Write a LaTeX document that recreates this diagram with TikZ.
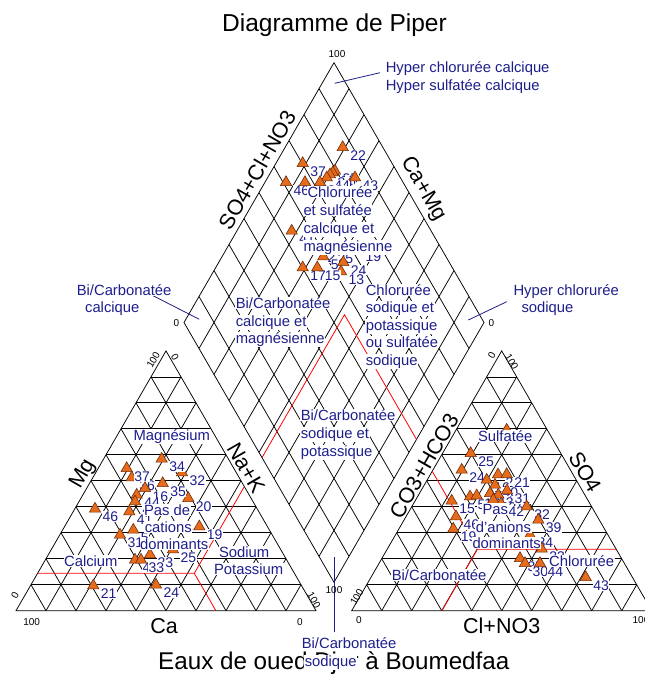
\documentclass[tikz,border=0pt]{standalone}
\usepackage{fontspec}
\setmainfont{Liberation Sans}
\usetikzlibrary{calc,shapes.geometric}
\definecolor{navy}{RGB}{30,30,140}
\definecolor{mkfill}{RGB}{230,108,28}
\definecolor{mkdraw}{RGB}{115,45,10}
\newcommand\smp[4]{\node[mk] (#1) at (#2,#3) {};\node[num] (#1n) at ($(#2,#3)+(7,9.5)$) {#4};}
\begin{document}
\begin{tikzpicture}[x=1pt,y=-1pt,
  gridl/.style={line width=0.75pt,black},
  redl/.style={line width=0.8pt,red},
  lead/.style={line width=0.8pt,navy},
  mk/.style={regular polygon,regular polygon sides=3,minimum size=13pt,inner sep=0pt,draw=mkdraw,fill=mkfill,line width=0.6pt,yshift=-1.6pt},
  num/.style={anchor=west,fill=white,text=navy,inner sep=0.4pt,font=\fontsize{14}{16}\selectfont},
  rl/.style={anchor=base west,fill=white,text=navy,inner sep=0.6pt,font=\fontsize{14.8}{17}\selectfont},
  tick/.style={inner sep=0pt,font=\fontsize{10}{12}\selectfont},
  axl/.style={inner sep=0pt,font=\fontsize{21.5}{24}\selectfont}]
\useasboundingbox (0,0) rectangle (645,678);
\fill[white] (0,0) rectangle (645,678);
% corners
\coordinate (LL) at (16,610.7); \coordinate (LR) at (316,610.7); \coordinate (LA) at (166,350.89);
\coordinate (RL) at (351.7,610.7); \coordinate (RR) at (651.7,610.7); \coordinate (RA) at (501.7,350.89);
\coordinate (DT) at (334,62.7); \coordinate (DL) at (184,322.5); \coordinate (DR) at (484,322.5); \coordinate (DB) at (334,582.3);
% grids
\foreach \i in {1,...,9}{
  \draw[gridl] ($(LL)!\i/10!(LA)$) -- ($(LR)!\i/10!(LA)$);
  \draw[gridl] ($(LL)!\i/10!(LR)$) -- ($(LL)!\i/10!(LA)$);
  \draw[gridl] ($(LL)!\i/10!(LR)$) -- ($(LA)!\i/10!(LR)$);
  \draw[gridl] ($(RL)!\i/10!(RA)$) -- ($(RR)!\i/10!(RA)$);
  \draw[gridl] ($(RL)!\i/10!(RR)$) -- ($(RL)!\i/10!(RA)$);
  \draw[gridl] ($(RL)!\i/10!(RR)$) -- ($(RA)!\i/10!(RR)$);
  \draw[gridl] ($(DT)!\i/10!(DL)$) -- ($(DR)!\i/10!(DB)$);
  \draw[gridl] ($(DT)!\i/10!(DR)$) -- ($(DL)!\i/10!(DB)$);
}
\draw[gridl] (LL) -- (LR) -- (LA) -- cycle;
\draw[gridl] (RL) -- (RR) -- (RA) -- cycle;
\draw[gridl] (DT) -- (DR) -- (DB) -- (DL) -- cycle;
% red classification lines
\coordinate (J1) at (194.3,573.3);
\draw[redl] ($(LL)!0.144!(LA)$) -- (J1) -- (215.9,610.7);
\draw[redl] (J1) -- (244.3,486.6);
\coordinate (J2) at (477.3,549.3);
\draw[redl] (616.2,549.3) -- (J2) -- (441.9,610.7);
\draw[redl] (J2) -- (432.2,471.2);
\coordinate (J3) at (344.5,314.7);
\draw[redl] (262,457.6) -- (J3) -- (416.5,439.4);
% leader lines
\coordinate (ldA1) at (334.7,83.3); \coordinate (ldA2) at (380,72.7);
\coordinate (ldB1) at (468.3,320); \coordinate (ldB2) at (506.7,301.7);
\coordinate (ldC1) at (151.7,295); \coordinate (ldC2) at (199.3,319.3);
\coordinate (ldD1) at (334,557); \coordinate (ldD2) at (334,632);
\draw[lead] (ldA1) -- (ldA2);
\draw[lead] (ldB1) -- (ldB2);
\draw[lead] (ldC1) -- (ldC2);
\draw[lead] (ldD1) -- (ldD2);
% tick labels
\node[tick] (tk1) at (337,54) {100};
\node[tick] (tk2) at (176.5,323) {0};
\node[tick] (tk3) at (491.5,323) {0};
\node[tick] (tk4) at (334,590) {100};
\node[tick,rotate=60] (tk5) at (153.3,360) {100};
\node[tick,rotate=-60] (tk6) at (175,357) {0};
\node[tick,rotate=60] (tk7) at (15,595) {0};
\node[tick] (tk8) at (31.7,621.7) {100};
\node[tick] (tk9) at (300,621.7) {0};
\node[tick,rotate=-60] (tk10) at (314,600) {100};
\node[tick,rotate=60] (tk11) at (491.7,355) {0};
\node[tick,rotate=-60] (tk12) at (511.7,361.7) {100};
\node[tick,rotate=60] (tk13) at (356.7,597) {100};
\node[tick] (tk14) at (359,620) {0};
\node[tick] (tk15) at (641,620) {100};
% axis labels
\node[axl,rotate=60] (axSO) at (257,170) {SO4+Cl+NO3};
\node[axl,rotate=-60] (axCM) at (423,189) {Ca+Mg};
\node[axl,rotate=60] (axMg) at (83,474) {Mg};
\node[axl,rotate=-60] (axNK) at (246,468) {Na+K};
\node[axl,rotate=60] (axCO) at (424,466) {CO3+HCO3};
\node[axl,rotate=-60] (axS4) at (585,472) {SO4};
\node[axl,anchor=base] (axCa) at (164,633) {Ca};
\node[axl,anchor=base] (axCl) at (501.7,633) {Cl+NO3};
% titles
\node[anchor=base,inner sep=0pt,font=\fontsize{24.5}{28}\selectfont] (title) at (334.5,31) {Diagramme de Piper};
\node[anchor=base,inner sep=0pt,font=\fontsize{24.2}{28}\selectfont] (subtitle) at (333.8,669.3) {Eaux de oued Djer à Boumedfaa};
% left triangle samples
\smp{l1}{182}{471}{32}
\smp{l2}{161.7}{457.3}{34}
\smp{l3}{131.7}{476}{36}
\smp{l4}{126.7}{466.7}{37}
\smp{l5}{188.3}{496.7}{20}
\smp{l6}{162.7}{481.7}{35}
\smp{l7}{145}{486.7}{16}
\smp{l8}{136.7}{493.3}{44}
\smp{l10}{95}{507.3}{46}
\smp{l11}{135}{500}{42}
\smp{l12}{129.3}{510}{41}
\smp{l13}{199.3}{525}{19}
\smp{l14}{133.3}{528.3}{5}
\smp{l15}{120}{533.3}{31}
\smp{l16}{150}{553}{23}
\smp{l17}{173}{548}{25}
\smp{l18}{135}{558.3}{43}
\smp{l19}{141}{558.3}{33}
\smp{l20}{93.3}{584}{21}
\smp{l21}{156}{583.3}{24}
% diamond samples
\smp{d1}{342.7}{145.7}{22}
\smp{d2}{302.7}{161.7}{37}
\smp{d3}{335}{169.3}{35}
\smp{d4}{332.7}{171}{16}
\smp{d5}{330}{173}{34}
\smp{d6}{326.7}{176}{44}
\smp{d7}{355}{176}{43}
\smp{d8}{286}{180.7}{46}
\smp{d9}{305}{180.7}{36}
\smp{d10}{320}{180.7}{32}
\smp{d11}{291.7}{229.3}{41}
\smp{d12}{320}{248}{21}
\smp{d13}{330}{249}{25}
\smp{d14}{358}{247}{19}
\smp{d15}{323.3}{255}{5}
\smp{d16}{343.3}{260.7}{24}
\smp{d17}{341}{270}{13}
\smp{d18}{302.7}{266}{17}
\smp{d19}{317.3}{266}{15}
% right triangle samples
\smp{r1}{506.7}{428.3}{23}
\smp{r2}{470.7}{451.7}{25}
\smp{r3}{461.7}{468.3}{24}
\smp{r4}{498}{473}{26}
\smp{r5}{506.7}{472.7}{21}
\smp{r6}{486.7}{478.3}{16}
\smp{r7}{495}{483.3}{40}
\smp{r8}{490}{491.7}{44}
\smp{r9}{498.3}{493.3}{36}
\smp{r10}{470}{495}{5}
\smp{r11}{476.7}{494}{17}
\smp{r12}{493.3}{498.3}{22}
\smp{r13}{507}{489}{31}
\smp{r14}{451.7}{499.3}{15}
\smp{r15}{501}{502}{42}
\smp{r16}{526.7}{505}{32}
\smp{r17}{538.3}{518.3}{39}
\smp{r18}{456}{515}{46}
\smp{r19}{453.3}{527.3}{19}
\smp{r20}{530}{533.3}{34}
\smp{r21}{541.7}{547.3}{33}
\smp{r22}{520}{556.7}{35}
\smp{r23}{525}{561.7}{30}
\smp{r24}{540}{561.7}{44}
\smp{r25}{585.7}{575.7}{43}
% region labels: diamond
\node[rl] (dA1) at (306.7,197) {Chlorurée};
\node[rl] (dA2) at (302.7,215) {et sulfatée};
\node[rl] (dA3) at (302.7,233) {calcique et};
\node[rl] (dA4) at (302.7,251) {magnésienne};
\node[rl] (dB1) at (235,308.3) {Bi/Carbonatée};
\node[rl] (dB2) at (235,326) {calcique et};
\node[rl] (dB3) at (235,343.5) {magnésienne};
\node[rl] (dC1) at (365,295) {Chlorurée};
\node[rl] (dC2) at (365,312.5) {sodique et};
\node[rl] (dC3) at (365,330) {potassique};
\node[rl] (dC4) at (365,347.5) {ou sulfatée};
\node[rl] (dC5) at (365,365) {sodique};
\node[rl] (dD1) at (300,420.7) {Bi/Carbonatée};
\node[rl] (dD2) at (300,438.3) {sodique et};
\node[rl] (dD3) at (300,456) {potassique};
\node[rl] (hA1) at (385,72.7) {Hyper chlorurée calcique};
\node[rl] (hA2) at (385,90.5) {Hyper sulfatée calcique};
\node[rl] (hB1) at (512.7,295) {Hyper chlorurée};
\node[rl] (hB2) at (520.7,312.5) {sodique};
\node[rl] (hC1) at (76,295) {Bi/Carbonatée};
\node[rl] (hC2) at (84.3,312.5) {calcique};
\node[rl] (hD1) at (301,648) {Bi/Carbonatée};
\node[rl] (hD2) at (304,666) {sodique};
% region labels: left triangle
\node[rl] (lA) at (132.7,440) {Magnésium};
\node[rl] (lB1) at (143.3,515) {Pas de};
\node[rl] (lB2) at (144,532) {cations};
\node[rl] (lB3) at (139.3,549) {dominants};
\node[rl] (lC) at (63.3,566) {Calcium};
\node[rl] (lD1) at (218.3,557.3) {Sodium};
\node[rl] (lD2) at (213.3,574.3) {Potassium};
% region labels: right triangle
\node[rl] (rA) at (477.3,441.7) {Sulfatée};
\node[rl] (rB1) at (481.7,514) {Pas};
\node[rl] (rB2) at (475,532.3) {d'anions};
\node[rl] (rB3) at (471.7,548) {dominants};
\node[rl] (rC) at (548.3,566) {Chlorurée};
\node[rl] (rD) at (391,580) {Bi/Carbonatée};
\end{tikzpicture}
\end{document}
